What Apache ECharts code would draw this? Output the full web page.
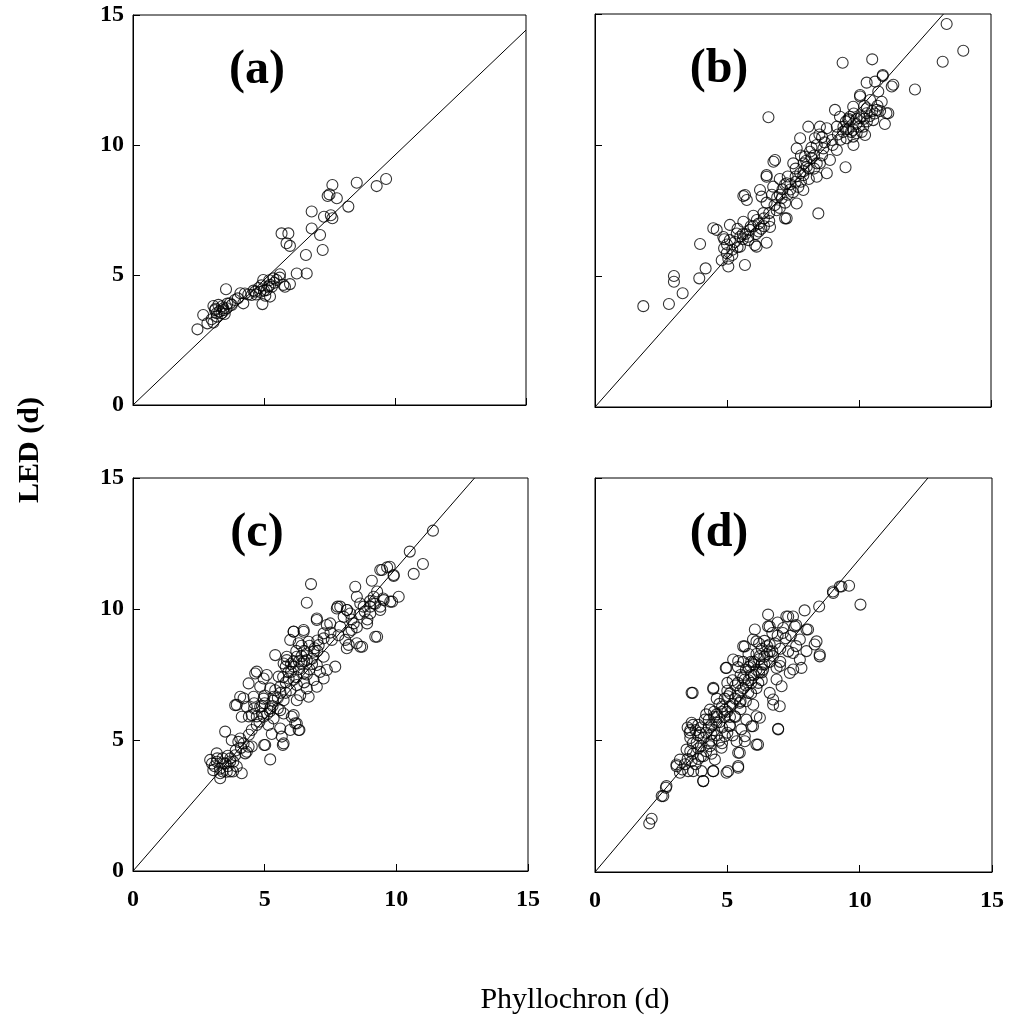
<!DOCTYPE html>
<html>
<head>
<meta charset="utf-8">
<script src="https://cdn.jsdelivr.net/npm/echarts@6/dist/echarts.min.js"></script>
<style>html,body{margin:0;padding:0;background:#fff}#chart{width:1014px;height:1020px}</style>
</head>
<body>
<div id="chart"></div>
<script>
// ---- data (Phyllochron (d), LED (d)) ----
var panelA = [[2.46,2.91],[2.68,3.46],[2.84,3.14],[3.07,3.17],[3.13,3.65],[3.26,3.85],[3.38,3.53],[3.55,4.45],[3.57,3.72],[3.77,3.85],[3.89,4.04],[4.21,3.91],[4.27,4.29],[4.53,4.23],[4.66,4.36],[4.94,3.88],[4.97,4.81],[5.10,4.42],[5.23,4.62],[5.36,4.87],[5.61,5.03],[5.74,4.62],[5.99,4.65],[6.25,5.06],[6.63,5.06],[6.60,5.77],[7.24,5.96],[5.67,6.60],[5.93,6.60],[5.99,6.12],[5.86,6.22],[6.82,7.44],[6.82,6.79],[7.14,6.54],[7.29,7.24],[7.61,7.18],[7.61,8.46],[7.43,8.04],[7.78,7.95],[8.22,7.63],[8.54,8.55],[9.30,8.42],[9.66,8.69],[7.55,7.30],[7.50,8.10],[3.07,3.81],[3.19,3.53],[3.45,3.72],[3.70,3.91],[5.16,4.55],[5.23,4.17],[5.48,4.81],[5.80,4.55],[3.30,3.60],[3.40,3.80],[3.20,3.40],[3.50,3.50],[3.60,3.90],[3.00,3.30],[3.15,3.70],[3.45,3.65],[4.40,4.25],[4.60,4.40],[4.80,4.50],[5.00,4.40],[5.20,4.80],[5.40,4.70],[4.90,4.60],[5.05,4.20],[4.70,4.25],[4.00,4.10],[4.10,4.30],[5.60,4.90],[4.85,4.35],[5.30,4.55]];

var panelB = [[1.83,3.85],[2.80,3.93],[2.99,5.00],[2.99,4.78],[3.32,4.34],[3.95,4.91],[4.19,5.29],[3.98,6.22],[4.48,6.82],[5.05,5.36],[5.68,5.42],[4.89,6.06],[4.99,5.87],[5.62,8.05],[6.57,11.06],[6.76,9.36],[6.50,8.79],[8.46,7.39],[7.26,7.20],[6.50,6.27],[6.12,6.12],[9.49,9.15],[9.09,11.34],[9.38,13.14],[10.50,13.27],[13.32,14.62],[13.95,13.60],[13.17,13.18],[12.12,12.12],[10.90,12.67],[10.29,12.38],[10.61,12.42],[11.24,12.23],[11.11,11.21],[10.98,10.80],[9.79,10.00],[10.04,11.85],
[4.61,6.76],[5.05,5.66],[5.11,6.37],[5.11,6.95],[5.37,6.62],[5.62,7.07],[5.87,6.76],[6.06,6.18],[6.13,7.14],[6.38,7.40],[6.63,6.87],[5.68,8.09],[5.75,7.90],[6.25,8.28],[6.50,8.85],[6.31,8.03],[6.82,9.43],[7.20,7.20],[6.88,7.51],[6.75,8.41],[7.07,7.97],[7.26,8.54],[7.51,9.30],[7.64,7.77],[7.89,8.28],[7.77,8.92],[7.95,9.55],[4.86,6.49],[5.49,6.12],[5.81,6.37],
[8.08,10.70],[8.52,10.70],[8.78,10.64],[7.77,10.26],[8.33,10.26],[7.64,9.87],[8.14,9.74],[8.65,9.87],[8.97,10.19],[9.16,9.81],[8.02,9.17],[8.52,9.30],[8.90,9.43],[7.89,8.85],[8.40,8.79],[8.78,8.92],[9.41,10.70],[9.60,10.95],[9.78,11.46],[10.04,11.02],[10.23,10.38],[10.04,11.91],[10.42,11.72],[10.67,11.34],[10.54,10.95],[11.04,11.21],[10.86,11.65],[10.90,12.63],[11.30,12.30],[9.78,10.57],[10.16,10.70],[9.53,10.26],[9.91,10.45],[10.29,11.21],[9.28,11.08],[9.16,10.70],[9.66,11.08],[10.73,12.04],[9.78,10.32],
[5.3,6.3],[5.5,6.5],[5.7,6.6],[5.9,6.9],[6.1,6.6],[6.2,7.0],[6.4,7.2],[6.6,7.4],[6.8,7.7],[7.0,7.6],[6.9,8.0],[7.1,8.3],[7.3,8.1],[7.4,8.5],[7.5,8.2],[7.6,8.6],[7.7,8.4],[7.9,9.0],[8.0,9.4],[8.2,9.5],[8.3,9.6],[8.4,10.0],[8.6,9.6],[8.7,10.1],[5.2,6.0],[5.4,6.8],[5.6,6.4],[6.0,7.3],[6.3,6.8],[6.5,7.8],[6.7,8.1],[7.2,7.8],[7.0,8.7],[7.3,8.8],[7.6,9.1],[8.1,8.7],[8.3,9.1],[8.5,10.4],[9.0,10.0],[9.2,10.4],[9.4,10.5],[9.6,10.6],[9.9,10.8],[10.1,11.1],[10.3,10.9],[10.5,11.3],[10.7,11.5],[9.5,10.9],[9.8,11.2],[10.2,11.5],[4.8,5.6],[5.0,6.2],[5.2,5.8],[4.9,6.4],
[5.4,6.1],[5.6,6.6],[5.8,6.5],[6.0,6.9],[6.2,6.7],[6.4,6.9],[6.6,7.1],[7.0,8.1],[7.2,8.5],[7.4,8.3],[7.6,8.8],[7.8,8.6],[7.9,9.3],[8.1,9.1],[8.2,9.9],[8.4,9.3],[8.6,10.3],[7.8,9.6],[9.3,10.2],[9.5,10.6],[9.7,10.5],[9.9,11.0],[10.0,10.7],[10.2,11.0],[10.4,11.1],[10.6,11.2],[10.8,11.3],[9.6,11.0],[10.3,11.4],[10.1,10.5]];

var panelC = [[11.39,12.99],[10.51,12.19],[11.01,11.72],[10.66,11.34],[9.90,11.30],[9.65,11.59],[9.46,11.49],[9.07,11.08],[10.09,10.47],[9.77,10.28],[6.76,10.95],[6.60,10.24],[8.44,10.85],[8.50,10.47],[7.77,10.09],[8.12,9.96],[9.14,10.47],[9.01,10.09],[9.39,9.96],[9.20,8.94],[8.63,8.56],[8.19,8.63],[7.68,7.80],[7.49,9.45],[6.98,9.58],[7.24,9.07],[6.48,9.20],[6.10,9.14],[5.40,8.24],[5.84,8.05],[4.96,7.35],[4.64,7.54],[4.39,7.16],[3.94,6.34],[4.20,6.59],[3.50,5.32],[4.07,5.06],[4.98,4.81],[5.69,4.81],[5.21,4.26],[6.32,5.38],[6.16,5.64],[6.10,5.95],[5.27,5.23],[5.65,5.13],[2.93,4.24],[3.31,3.54],[4.13,3.73],[4.32,4.55],[3.05,3.85],[3.56,3.79],[3.81,4.17],[3.18,4.17],[4.51,4.75],
[7.74,10.02],[8.13,9.96],[8.63,10.21],[9.14,10.21],[6.98,9.64],[7.36,9.39],[7.87,9.32],[8.38,9.45],[8.89,9.45],[9.27,8.94],[7.55,8.82],[8.06,8.82],[8.50,8.69],[8.70,8.56],[8.12,8.50],[6.10,9.13],[6.48,9.13],[5.97,8.82],[6.29,8.69],[6.67,8.75],[7.05,8.62],[7.24,8.88],[6.86,8.37],[7.24,8.18],[5.84,8.18],[6.22,8.18],[6.60,8.05],[6.98,7.86],[7.36,7.67],[7.24,7.35],[5.72,7.92],[6.10,7.80],[6.48,7.54],[6.86,7.29],[6.22,7.10],[6.60,6.97],[6.98,7.03],[4.70,7.61],[5.08,7.48],[5.53,7.42],[5.91,7.35],[4.83,7.03],[5.21,6.97],[5.59,7.03],[5.97,6.90],[6.35,6.71],[6.67,6.65],[6.22,6.52],[4.07,6.65],[4.58,6.65],[4.96,6.58],[5.34,6.65],[5.72,6.52],[3.88,6.33],[4.32,6.27],[4.83,6.27],[5.21,6.20],[5.59,6.14],[4.13,5.89],[4.51,5.95],[4.96,5.89],[5.34,5.82],[5.72,6.01],[6.03,5.89],[6.22,5.63],[4.70,5.57],[5.14,5.57],[5.59,5.44],[5.97,5.38],[6.29,5.38],[5.72,4.87],[5.02,4.81],[4.51,5.38],[4.20,4.87],[4.39,4.74],[3.75,4.99],[4.00,4.93],[4.26,4.49],[3.43,4.11],[3.69,4.18],[3.94,3.99],[3.31,3.73],[3.69,3.80],[3.18,4.49],[3.88,4.42],
[9.39,11.49],[9.75,11.61],[9.27,10.67],[9.52,10.34],[9.84,10.28],[9.39,10.09],[8.76,10.09],[9.01,9.83],[8.25,9.83],[7.87,10.09],[9.90,11.26],
[5.0,6.4],[5.4,6.9],[5.8,7.2],[6.0,7.6],[6.4,7.9],[6.8,8.1],[7.0,8.4],[6.5,8.4],[6.2,7.4],[5.5,6.6],[5.2,6.1],[4.9,6.0],[4.6,6.2],[5.8,6.8],[6.4,8.6],[6.7,7.7],[7.5,9.1],[8.0,9.7],[8.3,9.2],[8.8,9.9],[7.1,7.6],[4.8,5.7],[3.4,4.3],[3.6,4.0],[3.0,4.1],[3.9,4.6],[4.1,4.7],[4.4,5.2],
[3.1,4.0],[3.2,4.3],[3.3,3.9],[3.5,4.1],[3.7,4.3],[3.4,3.8],[3.6,4.4],[3.8,3.8],[4.4,5.9],[4.6,6.4],[4.7,5.9],[4.9,6.3],[5.0,6.7],[5.1,6.0],[5.3,6.3],[5.3,6.5],[5.5,6.2],[5.6,6.8],[5.7,7.4],[5.9,7.6],[6.0,7.9],[6.1,8.0],[6.2,8.4],[6.3,7.7],[6.4,8.2],[6.5,8.0],[6.6,8.3],[6.7,8.6],[6.8,7.9],[6.9,8.5],[7.0,8.8],[6.1,7.3],[6.3,8.0],[6.6,7.5],[5.8,7.8],[6.5,7.2],[8.3,9.6],[8.5,9.3],[8.6,9.8],[8.9,9.6],[8.2,9.1],[7.8,9.0],[9.2,10.2],[9.5,10.4],[9.0,10.3]];

var panelD = [[2.05,1.85],[2.14,2.03],[2.52,2.89],[2.68,3.21],[3.08,4.09],[3.21,3.78],[3.71,3.84],[4.09,3.46],[4.47,3.84],[4.97,3.78],[5.41,4.03],[5.41,4.54],[6.16,4.85],[5.66,4.98],[6.92,5.45],[5.97,5.55],[6.23,5.87],[6.98,6.31],[6.73,6.57],[3.69,6.82],[4.47,6.97],[4.94,7.77],[5.22,8.09],[5.60,8.59],[5.97,8.85],[6.54,9.80],[6.60,9.35],[7.23,9.73],[7.48,9.73],[7.92,9.96],[8.47,10.11],[8.99,10.68],[9.31,10.87],[9.60,10.90],[10.03,10.18],[8.49,8.21],[8.30,8.66],[7.99,9.23],[7.74,8.85],[7.48,8.34],[7.80,7.77],[7.36,7.58],[6.86,7.77],
[9.25,10.87],[9.00,10.62],[7.30,9.73],[6.54,9.35],[7.11,9.29],[7.55,9.35],[8.05,9.23],[8.37,8.78],[8.49,8.28],[7.99,8.41],[7.74,8.09],[7.49,7.71],[6.99,7.84],[6.04,9.23],[5.66,8.59],[5.41,8.03],[4.97,7.77],[6.10,8.78],[6.60,8.66],[6.23,8.22],[6.73,8.22],[5.86,7.84],[6.35,7.71],[6.86,7.33],[7.05,7.07],[5.66,7.33],[6.17,7.20],[6.60,6.82],[5.79,6.82],[4.47,7.01],[3.65,6.82],[5.03,6.69],[5.47,6.44],[5.98,6.37],[6.73,6.37],[6.92,5.43],[4.91,6.18],[5.28,5.93],[5.72,5.80],[6.10,5.93],[4.34,6.18],[4.15,5.80],[4.59,5.68],[5.09,5.55],[5.53,5.43],[5.91,5.55],[6.10,4.85],[3.65,5.68],[3.58,5.30],[3.96,5.30],[4.40,5.24],[4.91,5.17],[5.35,4.98],[5.66,5.17],[3.84,4.92],[4.34,4.79],[4.78,4.73],[5.47,4.54],[3.46,4.66],[3.21,4.28],[3.65,4.22],[4.09,4.41],[4.53,4.28],[3.08,4.03],[3.52,3.84],[4.02,3.84],[4.46,3.84],[5.03,3.84],[5.41,3.97],[4.09,3.46],[2.70,3.27],[2.58,2.89],
[4.6,6.0],[4.8,6.3],[5.0,6.1],[5.2,6.4],[5.4,6.7],[5.6,7.0],[5.8,7.3],[6.0,7.5],[6.2,7.6],[6.4,7.9],[6.6,8.0],[5.1,6.8],[5.3,7.1],[5.5,7.5],[5.7,7.7],[5.9,8.0],[6.1,8.3],[6.3,8.5],[4.7,5.7],[4.9,5.9],[5.1,5.6],[5.3,5.9],[5.5,6.2],[5.7,6.5],[5.9,6.8],[6.1,7.0],[6.3,7.3],[4.3,5.5],[4.5,5.4],[4.1,5.1],[3.9,4.7],[4.2,4.6],[4.4,5.0],[3.7,4.5],[3.5,4.3],[3.8,4.1],[4.0,5.5],[3.8,5.4],[4.6,5.2],[4.8,5.5],[5.0,5.3],[6.5,8.3],[6.8,8.7],[7.0,8.5],[7.2,8.9],[6.9,9.0],[7.4,9.0],[7.6,8.6],[6.4,8.8],[6.7,9.1],[5.8,8.3],[6.0,8.0],
[3.6,4.6],[3.7,4.9],[3.9,5.2],[4.0,4.8],[4.2,5.3],[4.3,5.8],[4.4,5.6],[4.5,6.1],[4.6,5.9],[4.7,6.4],[4.8,6.1],[4.9,6.6],[5.0,6.9],[5.1,6.3],[5.2,7.3],[5.3,6.6],[5.4,7.2],[5.5,6.9],[5.6,7.4],[5.7,7.1],[5.8,7.8],[5.9,7.5],[6.0,7.9],[6.1,7.7],[6.2,8.1],[6.3,7.9],[6.4,8.2],[6.5,8.6],[6.6,8.4],[6.2,8.7],[5.6,8.0],[5.4,7.8],[5.0,7.2],[4.6,6.6],[4.2,6.0],[3.9,5.6],[3.6,5.1],[4.0,4.4],[4.3,4.9],[4.7,5.0],[5.1,5.9],[5.5,6.5],[5.9,7.2],[6.3,7.6],[6.7,8.4],[7.0,8.0],[7.3,8.4],[7.1,9.1],[6.9,9.5],[7.6,9.4],[3.4,4.1],[3.3,3.9],[3.9,4.3],[4.4,4.5],[4.8,4.9],[5.2,5.2],[3.5,5.5],[3.6,5.4],[3.7,5.6],[4.5,5.9]];

// regression lines (endpoints in data units)
var fitA = [[0,0],[15,14.42]];
var fitB = [[0,0],[13.2,15]];
var fitC = [[0,0],[12.97,15]];
var fitD = [[0,0],[12.58,15]];

var panelLabels = ['(a)','(b)','(c)','(d)'];
var axisMin = 0, axisMax = 15, tickStep = 5;
var xTitle = 'Phyllochron (d)';
var yTitle = 'LED (d)';

// ---- layout ----
var FONT = '"Liberation Serif", "Times New Roman", serif';
var grids = [
  {left:133, top:15, width:393, height:390},
  {left:595, top:14, width:396, height:393},
  {left:133, top:478, width:395, height:393},
  {left:595, top:478, width:397, height:394}
];
var showXLabels = [false,false,true,true];
var showYLabels = [true,false,true,false];
var series = [panelA, panelB, panelC, panelD];
var fits = [fitA, fitB, fitC, fitD];

var chart = echarts.init(document.getElementById('chart'));
var labelStyle = {color:'#000', fontFamily:FONT, fontWeight:'bold', fontSize:24};

var option = {
  animation:false,
  backgroundColor:'#fff',
  grid: grids.map(function(g){return Object.assign({show:true, borderColor:'#000', borderWidth:1, backgroundColor:'transparent', containLabel:false}, g);}),
  xAxis: grids.map(function(g,i){return {
    type:'value', gridIndex:i, min:axisMin, max:axisMax, interval:tickStep,
    axisLine:{show:true, onZero:false, lineStyle:{color:'#000', width:1}},
    axisTick:{show:true, inside:true, length:7, lineStyle:{color:'#000'}},
    splitLine:{show:false},
    axisLabel:Object.assign({show:showXLabels[i], margin:17}, labelStyle)
  };}),
  yAxis: grids.map(function(g,i){return {
    type:'value', gridIndex:i, min:axisMin, max:axisMax, interval:tickStep,
    axisLine:{show:true, onZero:false, lineStyle:{color:'#000', width:1}},
    axisTick:{show:true, inside:true, length:7, lineStyle:{color:'#000'}},
    splitLine:{show:false},
    axisLabel:Object.assign({show:showYLabels[i], margin:9}, labelStyle)
  };}),
  series: [],
  graphic: []
};

series.forEach(function(d,i){
  option.series.push({
    type:'scatter', xAxisIndex:i, yAxisIndex:i, data:d,
    symbol:'circle', symbolSize:11,
    itemStyle:{color:'rgba(255,255,255,0)', borderColor:'#000', borderWidth:1.1},
    silent:true
  });
  option.series.push({
    type:'line', xAxisIndex:i, yAxisIndex:i, data:fits[i],
    showSymbol:false, symbol:'none', clip:true,
    lineStyle:{color:'#000', width:1}, silent:true, z:3
  });
  option.graphic.push({
    type:'text', x: grids[i].left + 124, y: grids[i].top + 56,
    style:{text:panelLabels[i], font:'bold 48px ' + FONT, fill:'#000', textAlign:'center', textVerticalAlign:'middle'}
  });
});

option.graphic.push({
  type:'text', x:30, y:450, rotation:Math.PI/2,
  style:{text:yTitle, font:'bold 30px ' + FONT, fill:'#000', textAlign:'center', textVerticalAlign:'middle'}
});
option.graphic.push({
  type:'text', x:575, y:1000,
  style:{text:xTitle, font:'30px ' + FONT, fill:'#000', textAlign:'center', textVerticalAlign:'middle'}
});

chart.setOption(option);
</script>
</body>
</html>
